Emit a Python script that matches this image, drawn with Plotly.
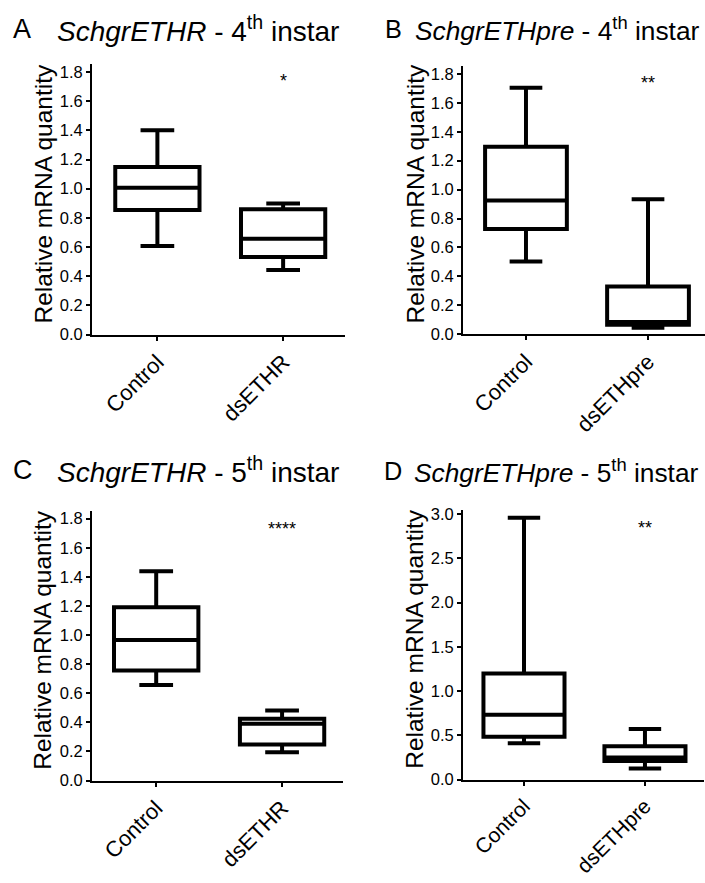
import plotly.graph_objects as go

# ---------------- data ----------------
cats_A = ["Control", "dsETHR"]
q1_A = [0.855, 0.533]
med_A = [1.006, 0.657]
q3_A = [1.148, 0.860]
low_A = [0.607, 0.443]
high_A = [1.400, 0.898]

cats_B = ["Control", "dsETHpre"]
q1_B = [0.727, 0.065]
med_B = [0.924, 0.085]
q3_B = [1.297, 0.330]
low_B = [0.503, 0.045]
high_B = [1.705, 0.934]

cats_C = ["Control", "dsETHR"]
q1_C = [0.756, 0.248]
med_C = [0.966, 0.390]
q3_C = [1.191, 0.424]
low_C = [0.657, 0.194]
high_C = [1.439, 0.482]

cats_D = ["Control", "dsETHpre"]
q1_D = [0.485, 0.210]
med_D = [0.733, 0.250]
q3_D = [1.200, 0.376]
low_D = [0.410, 0.125]
high_D = [2.960, 0.572]

yticks_18 = [0.0, 0.2, 0.4, 0.6, 0.8, 1.0, 1.2, 1.4, 1.6, 1.8]
yticks_30 = [0.0, 0.5, 1.0, 1.5, 2.0, 2.5, 3.0]

sig_A, sig_B, sig_C, sig_D = "*", "**", "****", "**"
sig_y = [1.74, 1.74, 1.73, 2.84]

letters = ["A", "B", "C", "D"]
genes = ["SchgrETHR", "SchgrETHpre", "SchgrETHR", "SchgrETHpre"]
stages = ["4", "4", "5", "5"]
ytitle = "Relative mRNA quantity"

# ---------------- layout geometry ----------------
W, H = 705, 883
FONT = "Liberation Sans, Arial, sans-serif"

geo = [
    ((92, 345, 60, 335), [-0.52, 1.492], [0, 1.854], yticks_18, 22),
    ((463, 705, 62, 334.5), [-0.516, 1.467], [0, 1.855], yticks_18, 22),
    ((92, 343, 514, 788), [-0.51, 1.484], [0, 1.854], yticks_18, 22),
    ((463, 704, 513, 787), [-0.504, 1.488], [0, 3.05], yticks_30, 21),
]

panels = [
    (cats_A, q1_A, med_A, q3_A, low_A, high_A, sig_A),
    (cats_B, q1_B, med_B, q3_B, low_B, high_B, sig_B),
    (cats_C, q1_C, med_C, q3_C, low_C, high_C, sig_C),
    (cats_D, q1_D, med_D, q3_D, low_D, high_D, sig_D),
]

fig = go.Figure()
annotations = []
layout = dict(
    width=W, height=H, margin=dict(l=0, r=0, t=0, b=0),
    paper_bgcolor="white", plot_bgcolor="white", showlegend=False,
    font=dict(family=FONT, color="black"),
)

for i, ((cats, q1, med, q3, low, high, sig), (box, xr, yr, yt, xfs)) in enumerate(zip(panels, geo)):
    n = "" if i == 0 else str(i + 1)
    xa, ya = "x" + n, "y" + n
    for j, c in enumerate(cats):
        fig.add_trace(go.Box(
            x=[c], q1=[q1[j]], median=[med[j]], q3=[q3[j]],
            lowerfence=[low[j]], upperfence=[high[j]],
            width=0.67, whiskerwidth=0.4,
            fillcolor="white", line=dict(color="black", width=4),
            boxpoints=False, hoverinfo="skip",
            xaxis=xa, yaxis=ya,
        ))
    x0, x1, yt0, yb0 = box
    layout["xaxis" + n] = dict(
        domain=[x0 / W, x1 / W], anchor=ya,
        type="category", categoryorder="array", categoryarray=cats,
        range=xr, showline=True, linecolor="black", linewidth=2,
        ticks="outside", ticklen=4, tickwidth=2, tickcolor="black",
        tickangle=-45, tickfont=dict(size=xfs, family=FONT, color="black"),
        showgrid=False, zeroline=False, fixedrange=True,
    )
    layout["yaxis" + n] = dict(
        domain=[1 - yb0 / H, 1 - yt0 / H], anchor=xa,
        range=yr, tickmode="array", tickvals=yt,
        ticktext=[f"{v:.1f}" for v in yt],
        showline=True, linecolor="black", linewidth=2,
        ticks="outside", ticklen=4, tickwidth=2, tickcolor="black",
        tickfont=dict(size=16.5, family=FONT, color="black"),
        showgrid=False, zeroline=False, fixedrange=True,
    )
    annotations.append(dict(
        x=cats[1], y=sig_y[i], xref=xa, yref=ya, text=sig, showarrow=False,
        font=dict(size=18, family=FONT, color="black"),
        xanchor="center", yanchor="middle",
    ))

title_pos = [(11, 55, 24), (383, 413, 24), (11, 55, 472), (382, 412, 474)]
title_size = [28, 26.3, 28, 26.3]
ytitle_pos = [(43, 192.5), (415, 192.5), (43, 646), (415, 645)]
for i in range(4):
    lx, tx, ty = title_pos[i]
    annotations.append(dict(
        x=lx / W, y=1 - ty / H, xref="paper", yref="paper", text=letters[i],
        showarrow=False, xanchor="left", yanchor="middle",
        font=dict(size=title_size[i] - 1, family=FONT, color="black"),
    ))
    annotations.append(dict(
        x=tx / W, y=1 - ty / H, xref="paper", yref="paper",
        text=f"<i>{genes[i]}</i> - {stages[i]}<sup>th</sup> instar",
        showarrow=False, xanchor="left", yanchor="middle",
        font=dict(size=title_size[i], family=FONT, color="black"),
    ))
    yx, yy = ytitle_pos[i]
    annotations.append(dict(
        x=yx / W, y=1 - yy / H, xref="paper", yref="paper", text=ytitle,
        textangle=-90, showarrow=False, xanchor="center", yanchor="middle",
        font=dict(size=24.5, family=FONT, color="black"),
    ))

layout["annotations"] = annotations
fig.update_layout(**layout)
fig.write_html(
    "out.html",
    config={"displayModeBar": False},
    post_script=("document.documentElement.style.margin='0px';"
                 "document.body.style.margin='0px';document.body.style.padding='0px';"
                 "document.documentElement.style.overflow='hidden';"
                 "document.body.style.overflow='hidden';"),
)
